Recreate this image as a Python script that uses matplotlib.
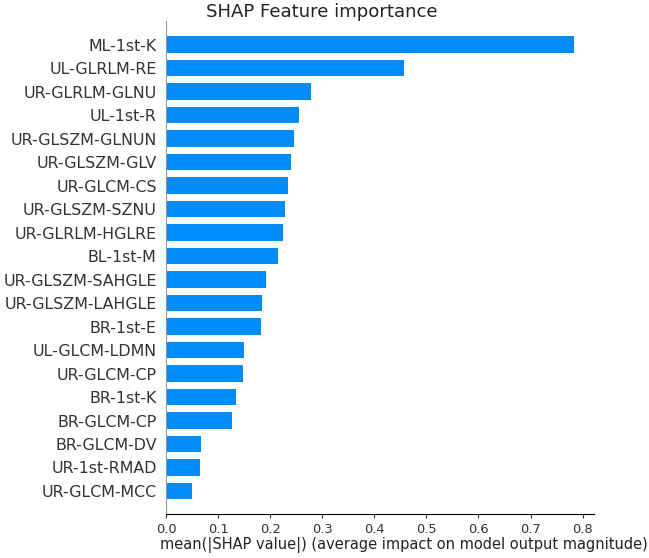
import matplotlib.pyplot as plt
import numpy as np

features = ["ML-1st-K", "UL-GLRLM-RE", "UR-GLRLM-GLNU", "UL-1st-R",
            "UR-GLSZM-GLNUN", "UR-GLSZM-GLV", "UR-GLCM-CS", "UR-GLSZM-SZNU",
            "UR-GLRLM-HGLRE", "BL-1st-M", "UR-GLSZM-SAHGLE", "UR-GLSZM-LAHGLE",
            "BR-1st-E", "UL-GLCM-LDMN", "UR-GLCM-CP", "BR-1st-K",
            "BR-GLCM-CP", "BR-GLCM-DV", "UR-1st-RMAD", "UR-GLCM-MCC"]
importance = [0.783, 0.458, 0.278, 0.255, 0.246, 0.240, 0.234, 0.228,
              0.224, 0.216, 0.192, 0.185, 0.182, 0.149, 0.148, 0.135,
              0.126, 0.067, 0.066, 0.049]
xticks = [0.0, 0.1, 0.2, 0.3, 0.4, 0.5, 0.6, 0.7, 0.8]

fig = plt.figure(figsize=(6.49, 5.58), dpi=100)
ax = fig.add_axes([0.2558, 0.078, 0.6595, 0.884])

# most important feature on top
y_pos = np.arange(len(features))[::-1]
ax.barh(y_pos, importance, 0.7, align="center", color="#008bfb")

ax.set_yticks(y_pos)
ax.set_yticklabels(features, fontsize=11.4, color="#333333")
ax.set_ylim(-1, len(features))
ax.set_xlim(0, 0.822)
ax.set_xticks(xticks)
ax.set_xticklabels([f"{t:.1f}" for t in xticks], fontsize=9.4, color="#333333")
ax.set_xlabel("mean(|SHAP value|) (average impact on model output magnitude)",
              fontsize=10.55, color="#222222", labelpad=1)
ax.xaxis.label.set_x(0.556)

ax.spines["right"].set_visible(False)
ax.spines["top"].set_visible(False)
ax.spines["left"].set_color("#999999")
ax.tick_params(axis="y", length=0, pad=6.7)
ax.tick_params(axis="x", length=3, color="#333333", pad=3)

fig.text(0.4954, 0.995, "SHAP Feature importance", ha="center", va="top",
         fontsize=13.1, color="#222222")

fig.savefig("out.png", dpi=100)
